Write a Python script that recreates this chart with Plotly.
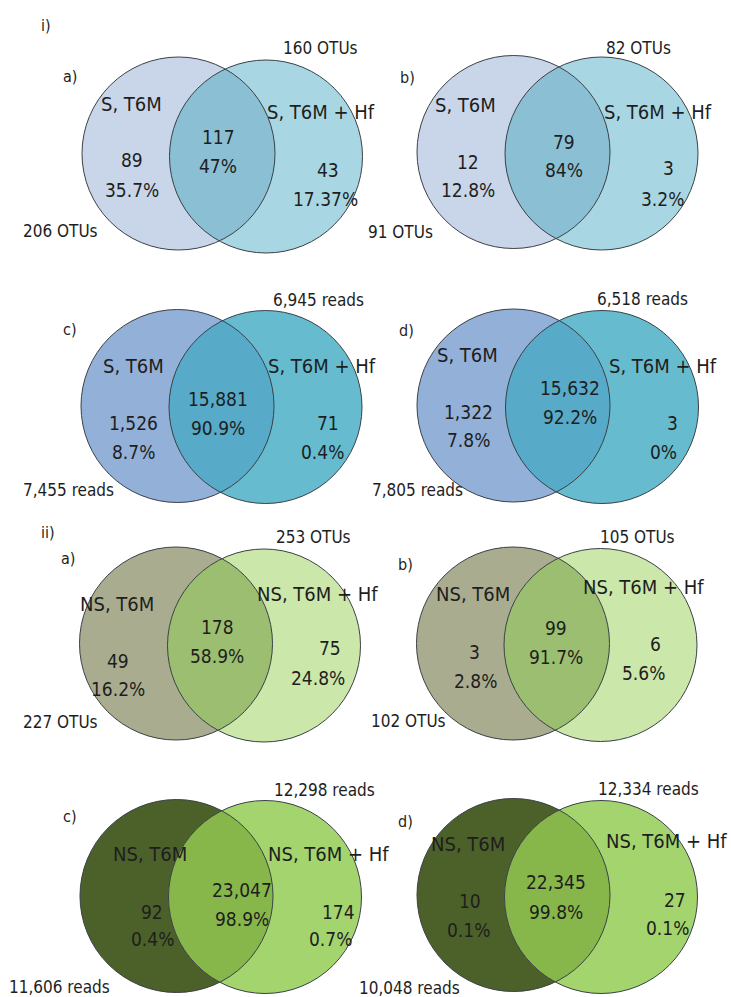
import numpy as np
import plotly.graph_objects as go

# ---- data -------------------------------------------------------------
group_labels = ["i)", "ii)"]
panel_letters = ["a)", "b)", "c)", "d)", "a)", "b)", "c)", "d)"]
left_sets = ["S, T6M"] * 4 + ["NS, T6M"] * 4
right_sets = ["S, T6M + Hf"] * 4 + ["NS, T6M + Hf"] * 4
units = ["OTUs", "OTUs", "reads", "reads", "OTUs", "OTUs", "reads", "reads"]

left_only = [89, 12, 1526, 1322, 49, 3, 92, 10]
shared = [117, 79, 15881, 15632, 178, 99, 23047, 22345]
right_only = [43, 3, 71, 3, 75, 6, 174, 27]

left_pct = [35.7, 12.8, 8.7, 7.8, 16.2, 2.8, 0.4, 0.1]
shared_pct = [47, 84, 90.9, 92.2, 58.9, 91.7, 98.9, 99.8]
right_pct = [17.37, 3.2, 0.4, 0, 24.8, 5.6, 0.7, 0.1]

left_total = [206, 91, 7455, 7805, 227, 102, 11606, 10048]
right_total = [160, 82, 6945, 6518, 253, 105, 12298, 12334]

# ---- styling / layout -------------------------------------------------
W, H = 731, 997
R = 96.5
FONT = "DejaVu Sans Condensed, Liberation Sans, Arial, sans-serif"
INK = "#1e1e1e"
EDGE = "#3b4148"
SZ_SET, SZ_NUM, SZ_TOT, SZ_TAG = 20, 19, 17, 16

# fill colours per panel: (left only, right only, overlap)
palettes = [
    ("#c9d6e9", "#a8d7e3", "#8bbfd3"),
    ("#c9d6e9", "#a8d7e3", "#8bbfd3"),
    ("#93b0d8", "#66bbcf", "#57aac8"),
    ("#93b0d8", "#66bbcf", "#57aac8"),
    ("#a9ac8f", "#cbe7a9", "#9cbe70"),
    ("#a9ac8f", "#cbe7a9", "#9cbe70"),
    ("#4b6129", "#a4d46e", "#87b74b"),
    ("#4b6129", "#a4d46e", "#87b74b"),
]

# circle centres (left, right) in page pixels
centres = [
    ((178.5, 153.5), (266.0, 156.5)),
    ((513.5, 152.0), (601.5, 153.5)),
    ((177.5, 406.0), (265.5, 407.0)),
    ((513.5, 405.5), (602.0, 407.0)),
    ((176.0, 643.5), (264.0, 645.5)),
    ((513.0, 643.5), (600.5, 645.0)),
    ((176.5, 896.0), (265.0, 897.0)),
    ((513.5, 895.0), (601.0, 897.0)),
]

# text anchors: letter, left set, right set, left n, left %, shared n,
# shared %, right n, right %, left total, right total
anchors = [
    [(70, 76), (131, 104), (321, 112), (132, 160), (132, 190), (218, 137), (218, 166), (328, 170), (325, 199), (60, 231), (320, 48)],
    [(407, 77), (465, 105), (658, 112), (468, 162), (468, 190), (564, 142), (564, 170), (668, 168), (662, 199), (400, 232), (638, 48)],
    [(70, 329), (133, 366), (322, 366), (133, 423), (133, 452), (218, 399), (218, 428), (328, 423), (322, 452), (68, 490), (318, 300)],
    [(406, 330), (467, 355), (663, 366), (468, 412), (468, 440), (570, 388), (570, 417), (672, 423), (663, 452), (417, 490), (642, 299)],
    [(68, 558), (117, 604), (317, 594), (118, 661), (118, 689), (217, 627), (217, 656), (330, 648), (318, 678), (60, 722), (313, 537)],
    [(405, 564), (473, 594), (643, 587), (474, 652), (475, 681), (556, 628), (556, 657), (655, 644), (643, 673), (408, 721), (637, 537)],
    [(70, 816), (150, 854), (328, 854), (152, 912), (152, 939), (242, 890), (242, 919), (338, 912), (330, 939), (59, 987), (324, 790)],
    [(405, 821), (468, 844), (666, 841), (470, 901), (468, 930), (556, 882), (556, 912), (675, 900), (667, 928), (409, 988), (648, 789)],
]
group_anchor = [(46, 25), (48, 532)]


def lens_path(c1, c2, r1, r2, n=60):
    """Closed SVG path of the intersection of two circles."""
    (x1, y1), (x2, y2) = c1, c2
    dx, dy = x2 - x1, y2 - y1
    d = np.hypot(dx, dy)
    a = (r1 ** 2 - r2 ** 2 + d ** 2) / (2 * d)
    phi = np.arctan2(dy, dx)
    al1 = np.arccos(a / r1)
    al2 = np.arccos((d - a) / r2)
    t1 = np.linspace(phi - al1, phi + al1, n)
    t2 = np.linspace(phi + np.pi - al2, phi + np.pi + al2, n)
    xs = np.concatenate([x1 + r1 * np.cos(t1), x2 + r2 * np.cos(t2)])
    ys = np.concatenate([y1 + r1 * np.sin(t1), y2 + r2 * np.sin(t2)])
    pts = [f"{x:.2f},{y:.2f}" for x, y in zip(xs, ys)]
    return "M " + " L ".join(pts) + " Z"


def pct(v):
    return f"{v:g}%"


shapes = []
annotations = []


def add_text(txt, xy, size):
    annotations.append(dict(
        x=xy[0], y=xy[1], xref="x", yref="y", text=txt, showarrow=False,
        xanchor="center", yanchor="middle",
        font=dict(family=FONT, size=size, color=INK),
    ))


for i in range(8):
    (cl, cr) = centres[i]
    col_l, col_r, col_o = palettes[i]
    # filled areas: left circle, right circle, then the overlap lens
    for (cx, cy), col in ((cl, col_l), (cr, col_r)):
        shapes.append(dict(type="circle", xref="x", yref="y",
                           x0=cx - R, x1=cx + R, y0=cy - R, y1=cy + R,
                           fillcolor=col, line=dict(width=0), layer="below"))
    shapes.append(dict(type="path", xref="x", yref="y",
                       path=lens_path(cl, cr, R, R), fillcolor=col_o,
                       line=dict(width=0), layer="below"))
    # outlines on top of the fills
    for (cx, cy) in (cl, cr):
        shapes.append(dict(type="circle", xref="x", yref="y",
                           x0=cx - R, x1=cx + R, y0=cy - R, y1=cy + R,
                           fillcolor="rgba(0,0,0,0)",
                           line=dict(color=EDGE, width=1), layer="below"))

    a = anchors[i]
    add_text(panel_letters[i], a[0], SZ_TAG)
    add_text(left_sets[i], a[1], SZ_SET)
    add_text(right_sets[i], a[2], SZ_SET)
    add_text(f"{left_only[i]:,}", a[3], SZ_NUM)
    add_text(pct(left_pct[i]), a[4], SZ_NUM)
    add_text(f"{shared[i]:,}", a[5], SZ_NUM)
    add_text(pct(shared_pct[i]), a[6], SZ_NUM)
    add_text(f"{right_only[i]:,}", a[7], SZ_NUM)
    add_text(pct(right_pct[i]), a[8], SZ_NUM)
    add_text(f"{left_total[i]:,} {units[i]}", a[9], SZ_TOT)
    add_text(f"{right_total[i]:,} {units[i]}", a[10], SZ_TOT)

for lbl, xy in zip(group_labels, group_anchor):
    add_text(lbl, xy, SZ_TAG)

fig = go.Figure()
# invisible trace so the axes exist
fig.add_trace(go.Scatter(x=[0, W], y=[0, H], mode="markers",
                         marker=dict(opacity=0), hoverinfo="skip",
                         showlegend=False))
fig.update_layout(
    width=W, height=H,
    margin=dict(l=0, r=0, t=0, b=0),
    paper_bgcolor="white", plot_bgcolor="white",
    xaxis=dict(range=[0, W], visible=False, fixedrange=True),
    yaxis=dict(range=[H, 0], visible=False, fixedrange=True),
    shapes=shapes, annotations=annotations,
    showlegend=False,
)
fig.write_html("out.html", config={"displayModeBar": False})
